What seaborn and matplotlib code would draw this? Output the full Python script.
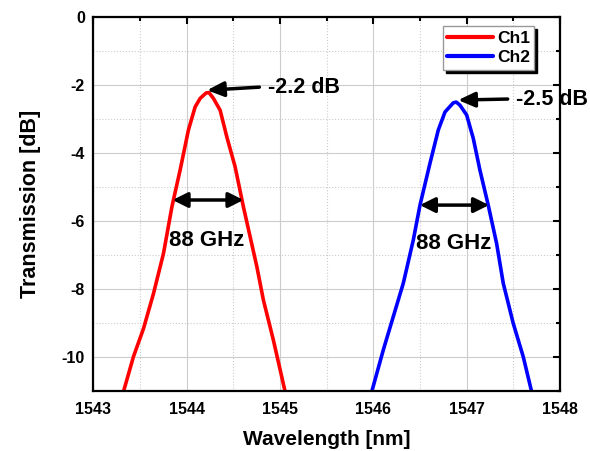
import numpy as np
import pandas as pd
import matplotlib
matplotlib.use('Agg')
import matplotlib.pyplot as plt
from matplotlib.ticker import MultipleLocator
import seaborn as sns

# data
ch1_wl = [1543.29, 1543.324, 1543.431, 1543.539, 1543.646, 1543.753, 1543.843, 1543.931,
          1544.020, 1544.092, 1544.146, 1544.210, 1544.240, 1544.288, 1544.360, 1544.431,
          1544.520, 1544.609, 1544.681, 1544.753, 1544.823, 1544.930, 1545.056, 1545.09]
ch1_db = [-11.5, -11.02, -9.99, -9.16, -8.13, -6.95, -5.58, -4.50,
          -3.32, -2.64, -2.39, -2.23, -2.22, -2.39, -2.74, -3.52,
          -4.40, -5.58, -6.46, -7.34, -8.32, -9.50, -11.02, -11.5]
ch2_wl = [1545.95, 1545.984, 1546.108, 1546.215, 1546.322, 1546.429, 1546.501, 1546.608,
          1546.697, 1546.769, 1546.858, 1546.890, 1546.929, 1547.001, 1547.072, 1547.143,
          1547.232, 1547.322, 1547.393, 1547.500, 1547.607, 1547.697, 1547.72]
ch2_db = [-11.5, -11.02, -9.79, -8.81, -7.83, -6.56, -5.53, -4.30,
          -3.32, -2.79, -2.52, -2.50, -2.59, -2.88, -3.57, -4.50,
          -5.53, -6.66, -7.83, -9.01, -9.99, -11.02, -11.5]

df = pd.concat([
    pd.DataFrame({'Wavelength': ch1_wl, 'Transmission': ch1_db, 'Channel': 'Ch1'}),
    pd.DataFrame({'Wavelength': ch2_wl, 'Transmission': ch2_db, 'Channel': 'Ch2'}),
])

sns.set_style('white')
plt.rcParams['font.family'] = ['Liberation Sans', 'DejaVu Sans']
plt.rcParams['font.weight'] = 'bold'
plt.rcParams['axes.unicode_minus'] = False
plt.rcParams['text.color'] = 'black'
plt.rcParams['axes.labelcolor'] = 'black'
plt.rcParams['xtick.color'] = 'black'
plt.rcParams['ytick.color'] = 'black'

fig = plt.figure(figsize=(5.9, 4.51), dpi=100)
ax = fig.add_axes([0.158, 0.133, 0.791, 0.829])

sns.lineplot(data=df, x='Wavelength', y='Transmission', hue='Channel',
             palette={'Ch1': '#ff0000', 'Ch2': '#0000ff'}, linewidth=2.6,
             sort=False, estimator=None, ax=ax)
for ln in ax.get_lines():
    ln.set_solid_joinstyle('round')

ax.set_xlim(1543, 1548)
ax.set_ylim(-11, 0)
ax.xaxis.set_major_locator(MultipleLocator(1))
ax.xaxis.set_minor_locator(MultipleLocator(0.5))
ax.yaxis.set_major_locator(MultipleLocator(2))
ax.yaxis.set_minor_locator(MultipleLocator(1))
ax.grid(which='major', color='#cccccc', linestyle='-', linewidth=0.8)
ax.grid(which='minor', color='#cccccc', linestyle=':', linewidth=0.8)
ax.tick_params(which='both', direction='in', top=True, right=True, width=1.5,
               labelsize=11.5)
ax.tick_params(which='major', length=5)
ax.tick_params(axis='x', which='major', pad=8)
ax.tick_params(axis='y', which='major', pad=6)
ax.tick_params(which='minor', length=3)
for s in ax.spines.values():
    s.set_linewidth(1.6)
    s.set_color('black')
for lab in ax.get_xticklabels() + ax.get_yticklabels():
    lab.set_fontweight('bold')

ax.set_xlabel('Wavelength [nm]', fontsize=15, fontweight='bold', labelpad=9)
ax.set_ylabel('Transmission [dB]', fontsize=15.5, fontweight='bold', labelpad=15)

arrow = dict(arrowstyle='-|>,head_length=1.0,head_width=0.45', color='black', lw=2.5,
             shrinkA=0, shrinkB=0)
ax.annotate('', xy=(1544.22, -2.15), xytext=(1544.78, -2.06), arrowprops=arrow)
ax.text(1544.87, -2.06, '-2.2 dB', fontsize=15.5, fontweight='bold', va='center')
ax.annotate('', xy=(1546.91, -2.44), xytext=(1547.44, -2.41), arrowprops=arrow)
ax.text(1547.53, -2.41, '-2.5 dB', fontsize=15.5, fontweight='bold', va='center',
        clip_on=False)

darrow = dict(arrowstyle='<|-|>,head_length=0.9,head_width=0.45', color='black', lw=2.5,
              shrinkA=0, shrinkB=0)
ax.annotate('', xy=(1543.85, -5.38), xytext=(1544.61, -5.38), arrowprops=darrow)
ax.text(1544.22, -6.56, '88 GHz', fontsize=16, fontweight='bold', ha='center', va='center')
ax.annotate('', xy=(1546.50, -5.53), xytext=(1547.24, -5.53), arrowprops=darrow)
ax.text(1546.86, -6.65, '88 GHz', fontsize=16, fontweight='bold', ha='center', va='center')

leg = ax.legend(loc='upper right', bbox_to_anchor=(0.945, 0.975), fontsize=12.5,
                frameon=True, fancybox=False, shadow={'color': 'black', 'alpha': 1},
                edgecolor='#999999', handlelength=2.6, borderpad=0.25,
                labelspacing=0.25, handletextpad=0.25, borderaxespad=0)
leg.get_frame().set_linewidth(1.0)
for t in leg.get_texts():
    t.set_fontweight('bold')
for h in leg.get_lines():
    h.set_linewidth(3)

fig.savefig('out.png', dpi=100)
